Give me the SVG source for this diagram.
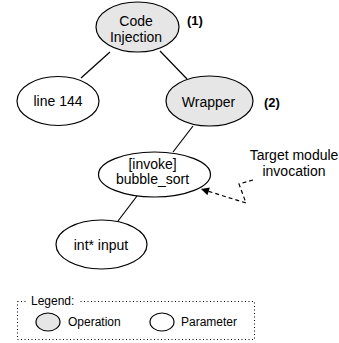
<svg xmlns="http://www.w3.org/2000/svg" width="339" height="343" viewBox="0 0 339 343">
<defs>
<style>
text{font-family:"Liberation Sans",Arial,sans-serif;fill:#000}
.t{font-size:14px;text-anchor:middle}
.b{font-size:13px;font-weight:bold}
.l{font-size:12px}
.op{fill:#e6e6e6;stroke:#000;stroke-width:1.2}
.pa{fill:#fff;stroke:#000;stroke-width:1.2}
.e{stroke:#000;stroke-width:1.2;fill:none}
</style>
<marker id="ah" viewBox="0 0 10 10" refX="10" refY="5" markerWidth="10" markerHeight="8" markerUnits="userSpaceOnUse" orient="auto">
<path d="M0,0 L10,5 L0,10 Z" fill="#000"/>
</marker>
</defs>
<rect width="339" height="343" fill="#fff"/>
<g id="connectors">
<line class="e" x1="110" y1="52" x2="81" y2="78"/>
<line class="e" x1="160" y1="51" x2="187" y2="79"/>
<line class="e" x1="193" y1="126" x2="173" y2="152"/>
<line class="e" x1="137" y1="196" x2="118" y2="221"/>
<path class="e" d="M253,180 L239,184 L246,203 L201,189" stroke-dasharray="4,3" marker-end="url(#ah)"/>
</g>
<g id="code-injection">
<ellipse class="op" cx="137.5" cy="27" rx="41.5" ry="25"/>
<text class="t" x="136" y="26">Code</text>
<text class="t" x="136" y="42">Injection</text>
<text class="b" x="187" y="25">(1)</text>
</g>
<g id="line144">
<ellipse class="pa" cx="58" cy="101" rx="41" ry="24.5"/>
<text class="t" x="58" y="106">line 144</text>
</g>
<g id="wrapper">
<ellipse class="op" cx="209.5" cy="101" rx="43.5" ry="25"/>
<text class="t" x="208.5" y="107">Wrapper</text>
<text class="b" x="264" y="107">(2)</text>
</g>
<g id="bubble-sort">
<ellipse class="pa" cx="154.5" cy="174.5" rx="56" ry="22.5"/>
<text class="t" x="152.5" y="169">[invoke]</text>
<text class="t" x="152.5" y="184">bubble_sort</text>
</g>
<g id="int-input">
<ellipse class="pa" cx="101.5" cy="244.5" rx="45.5" ry="24.5"/>
<text class="t" x="101" y="250">int* input</text>
</g>
<g id="annotation">
<text class="t" x="294" y="160">Target module</text>
<text class="t" x="294" y="176">invocation</text>
</g>
<g id="legend">
<rect x="17.5" y="301.5" width="237" height="38" fill="none" stroke="#000" stroke-width="1" stroke-dasharray="1,2.5"/>
<rect x="28" y="294" width="50" height="14" fill="#fff"/>
<text class="l" x="31" y="305">Legend:</text>
<ellipse class="op" cx="48" cy="322" rx="12" ry="9"/>
<text class="l" x="68" y="326">Operation</text>
<ellipse class="pa" cx="162" cy="322" rx="12" ry="9"/>
<text class="l" x="181" y="326">Parameter</text>
</g>
</svg>
